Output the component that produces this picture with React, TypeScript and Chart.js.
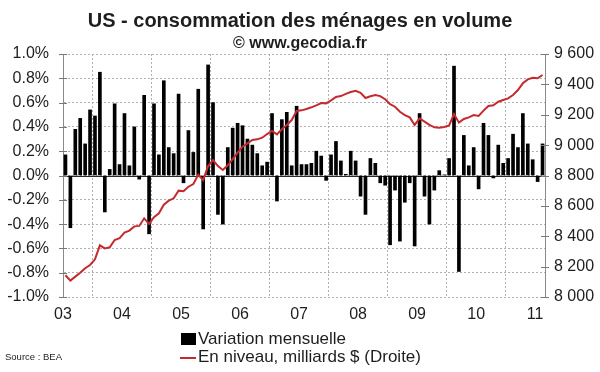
import React, { useEffect, useRef } from 'react';
import { Chart, registerables } from 'chart.js';

Chart.register(...registerables);

const yearLabels = ['03', '04', '05', '06', '07', '08', '09', '10', '11'];

// Monthly change, % (Jan 2003 .. Feb 2011)
const monthlyChange = [
  0.17, -0.43, 0.38, 0.47, 0.26, 0.54, 0.49, 0.85, -0.30, 0.05, 0.59, 0.09,
  0.51, 0.08, 0.40, -0.03, 0.66, -0.48, 0.59, 0.17, 0.78, 0.23, 0.18, 0.67,
  -0.06, 0.37, 0.19, 0.71, -0.44, 0.91, 0.60, -0.32, -0.40, 0.23, 0.39, 0.43,
  0.41, 0.30, 0.25, 0.18, 0.08, 0.11, 0.51, -0.21, 0.46, 0.52, 0.08, 0.57,
  0.09, 0.09, 0.10, 0.20, 0.16, -0.04, 0.17, 0.28, 0.12, 0.01, 0.20, 0.12,
  -0.17, -0.32, 0.14, 0.10, -0.06, -0.08, -0.57, -0.12, -0.54, -0.22, -0.06, -0.58,
  0.51, -0.17, -0.40, -0.12, 0.04, 0.005, 0.14, 0.90, -0.79, 0.33, 0.08, 0.23,
  -0.11, 0.43, 0.33, -0.02, 0.25, 0.10, 0.14, 0.34, 0.23, 0.51, 0.26, 0.13,
  -0.05, 0.26,
];

// Level, billions $ (right axis)
const level = [
  8143, 8108, 8134, 8160, 8189, 8211, 8248, 8340, 8320, 8327, 8375, 8388,
  8424, 8437, 8465, 8468, 8518, 8481, 8525, 8551, 8608, 8634, 8650, 8700,
  8696, 8726, 8744, 8805, 8770, 8862, 8902, 8862, 8836, 8867, 8908, 8950,
  8990, 9012, 9034, 9038, 9049, 9073, 9093, 9071, 9104, 9133, 9165, 9225,
  9229, 9238, 9249, 9262, 9277, 9275, 9295, 9317, 9323, 9337, 9350, 9358,
  9345, 9310, 9322, 9330, 9323, 9302, 9269, 9253, 9220, 9198, 9183, 9133,
  9176, 9155, 9133, 9117, 9115, 9119, 9130, 9205, 9148, 9172, 9183, 9198,
  9192, 9227, 9258, 9262, 9286, 9297, 9308, 9330, 9363, 9407, 9433, 9444,
  9440, 9462,
];

const FONT = 'Liberation Sans, Arial, sans-serif';
const TEXT = '#1e1e1e';

const fmtThousands = (v: number) =>
  Math.round(v).toString().replace(/\B(?=(\d{3})+(?!\d))/g, ' ');

export default function App() {
  const ref = useRef<HTMLCanvasElement>(null);

  useEffect(() => {
    if (!ref.current) return;
    const barData = monthlyChange.map((v, i) => ({ x: i + 0.5, y: v }));
    const lineData = level.map((v, i) => ({ x: i + 0.5, y: v }));

    const zeroLine = {
      id: 'zeroLine',
      beforeDatasetsDraw(chart: any) {
        const { ctx, chartArea } = chart;
        const y = Math.round(chart.scales.y.getPixelForValue(0)) + 0.5;
        ctx.save();
        ctx.strokeStyle = '#2a2a2a';
        ctx.lineWidth = 1;
        ctx.beginPath();
        ctx.moveTo(chartArea.left, y);
        ctx.lineTo(chartArea.right, y);
        ctx.stroke();
        ctx.restore();
      },
    };

    const crossTicks = {
      id: 'crossTicks',
      afterDraw(chart: any) {
        const { ctx, chartArea } = chart;
        ctx.save();
        ctx.strokeStyle = '#7a7a7a';
        ctx.lineWidth = 1;
        const draw = (scale: any, x: number) => {
          scale.ticks.forEach((t: any) => {
            const y = Math.round(scale.getPixelForValue(t.value)) + 0.5;
            ctx.beginPath();
            ctx.moveTo(x - 4, y);
            ctx.lineTo(x + 4, y);
            ctx.stroke();
          });
        };
        draw(chart.scales.y, Math.round(chartArea.left));
        draw(chart.scales.y2, Math.round(chartArea.right));
        ctx.restore();
      },
    };

    const chart = new Chart(ref.current, {
      type: 'bar',
      data: {
        datasets: [
          {
            type: 'line',
            label: 'En niveau, milliards $ (Droite)',
            data: lineData,
            yAxisID: 'y2',
            borderColor: '#c42a2e',
            borderWidth: 2,
            pointRadius: 0,
            tension: 0,
            order: 0,
          } as any,
          {
            type: 'bar',
            label: 'Variation mensuelle',
            data: barData,
            yAxisID: 'y',
            backgroundColor: '#000000',
            barThickness: 3,
            order: 1,
          } as any,
        ],
      },
      options: {
        animation: false,
        responsive: false,
        maintainAspectRatio: false,
        layout: { padding: { top: 54, left: 0, right: 0, bottom: 0 } },
        plugins: { legend: { display: false }, tooltip: { enabled: false } },
        scales: {
          x: {
            type: 'linear',
            min: 0,
            max: 98,
            offset: false,
            afterBuildTicks: (s: any) => {
              s.ticks = yearLabels.map((_, i) => ({ value: i * 12 }));
            },
            afterFit: (s: any) => {
              s.height = 75;
            },
            ticks: {
              callback: (v: any) => yearLabels[Math.round(Number(v) / 12)],
              font: { family: FONT, size: 16 },
              color: TEXT,
              padding: 8,
              maxRotation: 0,
              autoSkip: false,
            },
            grid: {
              color: (c: any) => (c.tick && c.tick.value === 0 ? 'rgba(0,0,0,0)' : '#b0b0b0'),
              drawTicks: false,
              lineWidth: 1,
            },
            border: { display: false, dash: [2, 2] },
          } as any,
          y: {
            position: 'left',
            min: -1,
            max: 1,
            afterFit: (s: any) => {
              s.width = 63;
            },
            ticks: {
              stepSize: 0.2,
              callback: (v: any) => Number(v).toFixed(1) + '%',
              font: { family: FONT, size: 16 },
              color: TEXT,
              padding: 14,
            },
            grid: { color: '#b0b0b0', drawTicks: false, lineWidth: 1 },
            border: { color: '#8a8a8a', width: 1, dash: [2, 2] },
          } as any,
          y2: {
            position: 'right',
            min: 8000,
            max: 9600,
            afterFit: (s: any) => {
              s.width = 55;
            },
            ticks: {
              stepSize: 200,
              callback: (v: any) => fmtThousands(Number(v)),
              font: { family: FONT, size: 16 },
              color: TEXT,
              padding: 9,
            },
            grid: { display: false, drawTicks: false },
            border: { color: '#8a8a8a', width: 1 },
          } as any,
        },
      },
      plugins: [zeroLine, crossTicks],
    });
    return () => chart.destroy();
  }, []);

  const abs: React.CSSProperties = { position: 'absolute', whiteSpace: 'nowrap', fontFamily: FONT, color: TEXT };

  return (
    <div style={{ position: 'fixed', left: 0, top: 0, width: 600, height: 372, background: '#fff', overflow: 'hidden' }}>
      <canvas ref={ref} width={600} height={372} style={{ position: 'absolute', left: 0, top: 0, width: 600, height: 372 }} />
      <div style={{ ...abs, left: 0, width: 600, top: 10, fontSize: 20, lineHeight: '20px', fontWeight: 'bold', textAlign: 'center' }}>
        US - consommation des ménages en volume
      </div>
      <div style={{ ...abs, left: 0, width: 600, top: 35, fontSize: 16, lineHeight: '16px', fontWeight: 'bold', textAlign: 'center' }}>
        © www.gecodia.fr
      </div>
      <div style={{ ...abs, left: 181, top: 333, width: 15, height: 12, background: '#000' }} />
      <div style={{ ...abs, left: 198, top: 330, fontSize: 17, lineHeight: '17px' }}>Variation mensuelle</div>
      <div style={{ ...abs, left: 180, top: 357, width: 16, height: 2, background: '#c42a2e' }} />
      <div style={{ ...abs, left: 198, top: 348, fontSize: 17, lineHeight: '17px' }}>En niveau, milliards $ (Droite)</div>
      <div style={{ ...abs, left: 5, top: 352, fontSize: 9.5, lineHeight: '10px' }}>Source : BEA</div>
    </div>
  );
}
